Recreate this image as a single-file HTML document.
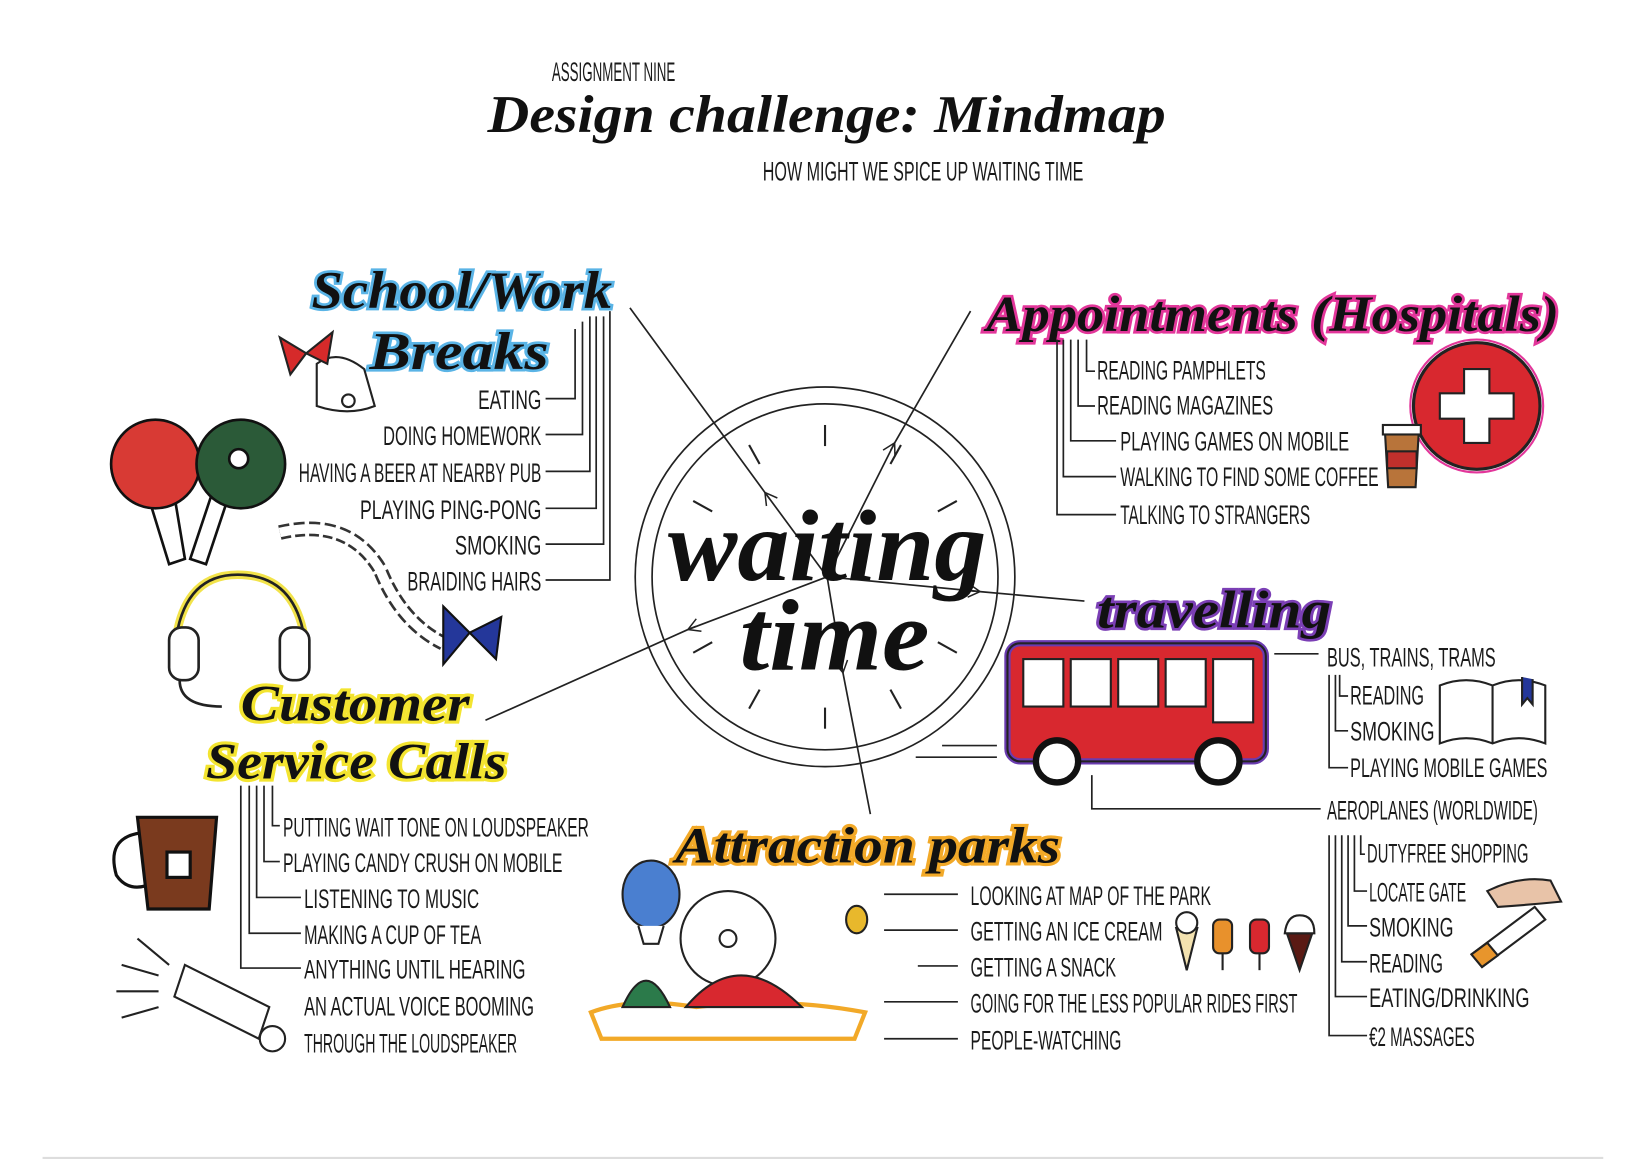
<!DOCTYPE html>
<html><head><meta charset="utf-8"><style>
html,body{margin:0;padding:0;background:#fff;}
svg{display:block;}
.h{font-family:"Liberation Sans Narrow","Liberation Sans",sans-serif;fill:#1a1a1a;font-size:25px;}
.s{font-family:"Liberation Serif",serif;font-weight:bold;font-style:italic;fill:#111;}
.ln{stroke:#222;stroke-width:1.6;fill:none;}
</style></head><body>
<svg width="1649" height="1160" viewBox="0 0 1563 1100" xmlns="http://www.w3.org/2000/svg">
<defs>
<marker id="a" viewBox="0 0 20 20" refX="16" refY="10" markerWidth="16" markerHeight="16" markerUnits="userSpaceOnUse" orient="auto">
<path d="M2 2 L16 10 L2 18 M6 10 L16 10" fill="none" stroke="#222" stroke-width="1.8"/></marker>
</defs>
<rect width="1563" height="1100" fill="#fff"/>
<!-- title -->
<text class="h" x="523" y="77" font-size="15" textLength="117" lengthAdjust="spacingAndGlyphs">ASSIGNMENT NINE</text>
<text class="s" x="462" y="125" font-size="50" textLength="643" lengthAdjust="spacingAndGlyphs">Design challenge:  Mindmap</text>
<text class="h" x="723" y="171" font-size="22" textLength="304" lengthAdjust="spacingAndGlyphs">HOW MIGHT WE SPICE UP WAITING TIME</text>

<!-- clock -->
<circle cx="782" cy="547" r="180" class="ln"/>
<circle cx="782" cy="547" r="164" class="ln"/>
<g stroke="#222" stroke-width="2">
<line x1="782" y1="403" x2="782" y2="423"/><line x1="782" y1="671" x2="782" y2="691"/>
<line x1="710" y1="422" x2="720" y2="440"/><line x1="854" y1="672" x2="844" y2="654"/>
<line x1="657" y1="475" x2="675" y2="485"/><line x1="907" y1="619" x2="889" y2="609"/>
<line x1="657" y1="619" x2="675" y2="609"/><line x1="907" y1="475" x2="889" y2="485"/>
<line x1="710" y1="672" x2="720" y2="654"/><line x1="854" y1="422" x2="844" y2="440"/>
</g>
<!-- connectors with mid arrowheads -->
<g class="ln" stroke-width="1.8">
<path d="M784 547 L725 467 L597 292" marker-mid="url(#a)"/>
<path d="M784 547 L848 420 L920 295" marker-mid="url(#a)"/>
<path d="M784 547 L929 561 L1028 570" marker-mid="url(#a)"/>
<path d="M784 547 L652 597 L460 683" marker-mid="url(#a)"/>
<path d="M784 547 L799 638 L825 772" marker-mid="url(#a)"/>
</g>
<text class="s" x="633" y="550" font-size="96" textLength="302" lengthAdjust="spacingAndGlyphs">waiting</text>
<text class="s" x="701" y="635" font-size="96" textLength="180" lengthAdjust="spacingAndGlyphs">time</text>

<!-- School/Work -->
<g>
<text class="s" x="295" y="292" font-size="50" textLength="285" lengthAdjust="spacingAndGlyphs" stroke="#5ab4e6" stroke-width="5" fill="#5ab4e6">School/Work</text>
<text class="s" x="295" y="292" font-size="50" textLength="285" lengthAdjust="spacingAndGlyphs">School/Work</text>
<text class="s" x="350" y="350" font-size="50" textLength="170" lengthAdjust="spacingAndGlyphs" stroke="#5ab4e6" stroke-width="5" fill="#5ab4e6">Breaks</text>
<text class="s" x="350" y="350" font-size="50" textLength="170" lengthAdjust="spacingAndGlyphs">Breaks</text>
</g>
<g class="h" text-anchor="end" font-size="26">
<text x="513" y="388" textLength="60" lengthAdjust="spacingAndGlyphs">EATING</text>
<text x="513" y="422" textLength="150" lengthAdjust="spacingAndGlyphs">DOING HOMEWORK</text>
<text x="513" y="457" textLength="230" lengthAdjust="spacingAndGlyphs">HAVING A BEER AT NEARBY PUB</text>
<text x="513" y="492" textLength="172" lengthAdjust="spacingAndGlyphs">PLAYING PING-PONG</text>
<text x="513" y="526" textLength="82" lengthAdjust="spacingAndGlyphs">SMOKING</text>
<text x="513" y="560" textLength="127" lengthAdjust="spacingAndGlyphs">BRAIDING HAIRS</text>
</g>
<g class="ln">
<path d="M517 378 H545 V312"/><path d="M517 412 H552 V305"/><path d="M517 447 H559 V300"/>
<path d="M517 482 H565 V300"/><path d="M517 516 H572 V300"/><path d="M517 550 H578 V295"/>
</g>
<!-- bell -->
<g stroke="#222" stroke-width="2">
<path d="M300 345 Q320 330 345 350 L355 385 Q330 395 300 385 Z" fill="#fff"/>
<circle cx="330" cy="380" r="6" fill="#fff"/>
<path d="M265 320 L290 335 L275 355 Z M290 335 L315 315 L310 345 Z" fill="#d62a2a"/>
</g>
<!-- ping pong -->
<g stroke="#111" stroke-width="2.5">
<path d="M140 470 L160 535 L175 530 L165 470 Z" fill="#fff"/>
<path d="M200 470 L180 530 L195 535 L215 475 Z" fill="#fff"/>
<circle cx="147" cy="440" r="42" fill="#d83a34"/>
<circle cx="228" cy="440" r="42" fill="#2b5a38"/>
<circle cx="226" cy="435" r="9" fill="#fff"/>
</g>
<!-- braid -->
<path d="M265 505 Q330 490 360 540 Q380 590 420 610" stroke="#333" stroke-width="14" fill="none" stroke-dasharray="10 4"/>
<path d="M265 505 Q330 490 360 540 Q380 590 420 610" stroke="#fff" stroke-width="9" fill="none"/>
<path d="M420 575 L445 600 L420 630 Z M445 600 L475 585 L470 625 Z" fill="#24379a" stroke="#111" stroke-width="2"/>
<!-- headphones -->
<g stroke="#222" stroke-width="2.5" fill="none">
<path d="M165 620 Q170 545 225 545 Q285 545 290 620" stroke="#f2e34a" stroke-width="8"/>
<path d="M165 620 Q170 545 225 545 Q285 545 290 620"/>
<rect x="160" y="595" width="28" height="50" rx="12" fill="#fff"/>
<rect x="265" y="595" width="28" height="50" rx="12" fill="#fff"/>
<path d="M170 645 Q170 670 210 670"/>
</g>

<!-- Appointments -->
<text class="s" x="935" y="314" font-size="48" textLength="543" lengthAdjust="spacingAndGlyphs" stroke="#e2369a" stroke-width="5" fill="#e2369a">Appointments (Hospitals)</text>
<text class="s" x="935" y="314" font-size="48" textLength="543" lengthAdjust="spacingAndGlyphs">Appointments (Hospitals)</text>
<g class="h" font-size="26">
<text x="1040" y="360" textLength="160" lengthAdjust="spacingAndGlyphs">READING PAMPHLETS</text>
<text x="1040" y="393" textLength="167" lengthAdjust="spacingAndGlyphs">READING MAGAZINES</text>
<text x="1062" y="427" textLength="217" lengthAdjust="spacingAndGlyphs">PLAYING GAMES ON MOBILE</text>
<text x="1062" y="461" textLength="245" lengthAdjust="spacingAndGlyphs">WALKING TO FIND SOME COFFEE</text>
<text x="1062" y="497" textLength="180" lengthAdjust="spacingAndGlyphs">TALKING TO STRANGERS</text>
</g>
<g class="ln">
<path d="M1030 322 V352 H1038"/><path d="M1022 322 V385 H1038"/><path d="M1015 322 V418 H1058"/>
<path d="M1008 322 V452 H1058"/><path d="M1002 322 V488 H1058"/>
</g>
<circle cx="1400" cy="385" r="60" fill="#d8282f" stroke="#222" stroke-width="3"/>
<circle cx="1400" cy="385" r="63" fill="none" stroke="#e2369a" stroke-width="2"/>
<path d="M1388 350 H1412 V373 H1435 V397 H1412 V420 H1388 V397 H1365 V373 H1388 Z" fill="#fff" stroke="#222" stroke-width="2"/>
<g stroke="#222" stroke-width="2"><path d="M1313 410 H1345 L1342 462 H1316 Z" fill="#b8743a"/><rect x="1311" y="403" width="36" height="9" fill="#fff"/><rect x="1315" y="428" width="28" height="16" fill="#c0302c"/></g>

<!-- Travelling -->
<text class="s" x="1040" y="595" font-size="50" textLength="222" lengthAdjust="spacingAndGlyphs" stroke="#7b3fb5" stroke-width="5" fill="#7b3fb5">travelling</text>
<text class="s" x="1040" y="595" font-size="50" textLength="222" lengthAdjust="spacingAndGlyphs">travelling</text>
<rect x="955" y="610" width="245" height="112" rx="12" fill="#d8282f" stroke="#6a3bb0" stroke-width="6"/>
<rect x="955" y="610" width="245" height="112" rx="12" fill="none" stroke="#222" stroke-width="2"/>
<g fill="#fff" stroke="#222" stroke-width="2">
<rect x="970" y="625" width="38" height="45"/><rect x="1015" y="625" width="38" height="45"/><rect x="1060" y="625" width="38" height="45"/>
<rect x="1105" y="625" width="38" height="45"/><rect x="1150" y="625" width="38" height="60"/>
<circle cx="1002" cy="722" r="20" stroke-width="6" stroke="#111"/><circle cx="1155" cy="722" r="20" stroke-width="6" stroke="#111"/>
</g>
<g class="ln"><path d="M893 707 H945 M868 718 H945"/><path d="M1035 735 V767 H1252"/><path d="M1208 620 H1250"/></g>
<g class="h" font-size="26">
<text x="1258" y="632" textLength="160" lengthAdjust="spacingAndGlyphs">BUS, TRAINS, TRAMS</text>
<text x="1280" y="668" textLength="70" lengthAdjust="spacingAndGlyphs">READING</text>
<text x="1280" y="702" textLength="80" lengthAdjust="spacingAndGlyphs">SMOKING</text>
<text x="1280" y="737" textLength="187" lengthAdjust="spacingAndGlyphs">PLAYING MOBILE GAMES</text>
<text x="1258" y="777" textLength="200" lengthAdjust="spacingAndGlyphs">AEROPLANES (WORLDWIDE)</text>
<text x="1296" y="818" textLength="153" lengthAdjust="spacingAndGlyphs">DUTYFREE SHOPPING</text>
<text x="1298" y="855" textLength="92" lengthAdjust="spacingAndGlyphs">LOCATE GATE</text>
<text x="1298" y="888" textLength="80" lengthAdjust="spacingAndGlyphs">SMOKING</text>
<text x="1298" y="922" textLength="70" lengthAdjust="spacingAndGlyphs">READING</text>
<text x="1298" y="955" textLength="152" lengthAdjust="spacingAndGlyphs">EATING/DRINKING</text>
<text x="1298" y="992" textLength="100" lengthAdjust="spacingAndGlyphs">€2 MASSAGES</text>
</g>
<g class="ln">
<path d="M1270 640 V660 H1278"/><path d="M1266 640 V693 H1278"/><path d="M1260 640 V728 H1278"/>
<path d="M1290 792 V810 H1294"/><path d="M1284 792 V845 H1296"/><path d="M1278 792 V878 H1296"/>
<path d="M1272 792 V912 H1296"/><path d="M1266 792 V945 H1296"/><path d="M1260 792 V982 H1296"/>
</g>
<g stroke="#222" stroke-width="2" fill="#fff"><path d="M1365 650 Q1390 640 1415 650 Q1440 640 1465 650 V705 Q1440 695 1415 705 Q1390 695 1365 705 Z"/><path d="M1415 650 V705"/><path d="M1443 642 V668 L1448 662 L1453 668 V644" fill="#24379a"/></g>
<g stroke="#222" stroke-width="2"><path d="M1395 905 L1455 860 L1465 872 L1405 917 Z" fill="#fff"/><path d="M1395 905 L1410 894 L1420 906 L1405 917 Z" fill="#e8952c"/><path d="M1410 845 Q1440 830 1470 835 L1480 855 Q1450 858 1420 860 Z" fill="#e8c3a8"/></g>

<!-- Customer service -->
<text class="s" x="228" y="683" font-size="48" textLength="217" lengthAdjust="spacingAndGlyphs" stroke="#f3e430" stroke-width="6" fill="#f3e430">Customer</text>
<text class="s" x="228" y="683" font-size="48" textLength="217" lengthAdjust="spacingAndGlyphs">Customer</text>
<text class="s" x="195" y="738" font-size="48" textLength="285" lengthAdjust="spacingAndGlyphs" stroke="#f3e430" stroke-width="6" fill="#f3e430">Service Calls</text>
<text class="s" x="195" y="738" font-size="48" textLength="285" lengthAdjust="spacingAndGlyphs">Service Calls</text>
<g class="h" font-size="26">
<text x="268" y="793" textLength="290" lengthAdjust="spacingAndGlyphs">PUTTING WAIT TONE ON LOUDSPEAKER</text>
<text x="268" y="827" textLength="265" lengthAdjust="spacingAndGlyphs">PLAYING CANDY CRUSH ON MOBILE</text>
<text x="288" y="861" textLength="166" lengthAdjust="spacingAndGlyphs">LISTENING TO MUSIC</text>
<text x="288" y="895" textLength="168" lengthAdjust="spacingAndGlyphs">MAKING A CUP OF TEA</text>
<text x="288" y="928" textLength="210" lengthAdjust="spacingAndGlyphs">ANYTHING UNTIL HEARING</text>
<text x="288" y="963" textLength="218" lengthAdjust="spacingAndGlyphs">AN ACTUAL VOICE BOOMING</text>
<text x="288" y="998" textLength="202" lengthAdjust="spacingAndGlyphs">THROUGH THE LOUDSPEAKER</text>
</g>
<g class="ln">
<path d="M258 745 V783 H265"/><path d="M250 745 V817 H265"/><path d="M243 745 V851 H285"/>
<path d="M236 745 V885 H285"/><path d="M228 745 V918 H285"/>
</g>
<g stroke="#111" stroke-width="3"><path d="M130 775 H205 L198 862 H140 Z" fill="#7a3a1e"/><path d="M132 790 Q100 795 110 830 Q120 845 138 840" fill="none"/><rect x="158" y="808" width="22" height="24" fill="#fff"/></g>
<g stroke="#222" stroke-width="2" fill="#fff"><path d="M175 915 L255 955 L245 985 L165 945 Z"/><circle cx="258" cy="985" r="12"/><path d="M110 940 H150 M115 915 L150 925 M130 890 L160 915 M115 965 L150 955"/></g>

<!-- Attraction parks -->
<text class="s" x="640" y="818" font-size="48" textLength="365" lengthAdjust="spacingAndGlyphs" stroke="#f2a928" stroke-width="6" fill="#f2a928">Attraction parks</text>
<text class="s" x="640" y="818" font-size="48" textLength="365" lengthAdjust="spacingAndGlyphs">Attraction parks</text>
<g class="h" font-size="26">
<text x="920" y="858" textLength="228" lengthAdjust="spacingAndGlyphs">LOOKING AT MAP OF THE PARK</text>
<text x="920" y="892" textLength="182" lengthAdjust="spacingAndGlyphs">GETTING AN ICE CREAM</text>
<text x="920" y="926" textLength="138" lengthAdjust="spacingAndGlyphs">GETTING A SNACK</text>
<text x="920" y="960" textLength="310" lengthAdjust="spacingAndGlyphs">GOING FOR THE LESS POPULAR RIDES FIRST</text>
<text x="920" y="995" textLength="143" lengthAdjust="spacingAndGlyphs">PEOPLE-WATCHING</text>
</g>
<g class="ln"><path d="M838 848 H908 M838 882 H908 M870 916 H908 M838 950 H908 M838 985 H908"/></g>
<g stroke="#222" stroke-width="2">
<path d="M1115 880 L1125 920 L1135 880 Z" fill="#f3e2b0"/><circle cx="1125" cy="875" r="10" fill="#fff"/>
<rect x="1150" y="872" width="18" height="32" rx="6" fill="#e8912c"/><path d="M1159 904 V920"/>
<rect x="1185" y="872" width="18" height="32" rx="6" fill="#d8282f"/><path d="M1194 904 V920"/>
<path d="M1220 885 L1232 920 L1244 885 Z" fill="#5a1a14"/><path d="M1218 885 Q1220 868 1232 868 Q1246 868 1246 885 Z" fill="#fff"/>
</g>
<g stroke="#222" stroke-width="2">
<path d="M560 960 Q600 945 660 955 Q740 945 820 960 L810 985 H570 Z" fill="#fff" stroke="#f2a928" stroke-width="4"/>
<ellipse cx="617" cy="848" rx="27" ry="32" fill="#4a7fd0"/><path d="M605 878 L610 895 H624 L629 878" fill="#fff"/>
<circle cx="690" cy="890" r="45" fill="none"/><circle cx="690" cy="890" r="8" fill="#fff"/>
<path d="M650 955 Q700 895 760 955 Z" fill="#d8282f"/>
<path d="M590 955 Q612 905 635 955 Z" fill="#2b7a4a"/>
<ellipse cx="812" cy="872" rx="10" ry="13" fill="#e8b82c"/>
</g>
<line x1="40" y1="1098" x2="1520" y2="1098" stroke="#ddd" stroke-width="2"/>
</svg>
</body></html>
